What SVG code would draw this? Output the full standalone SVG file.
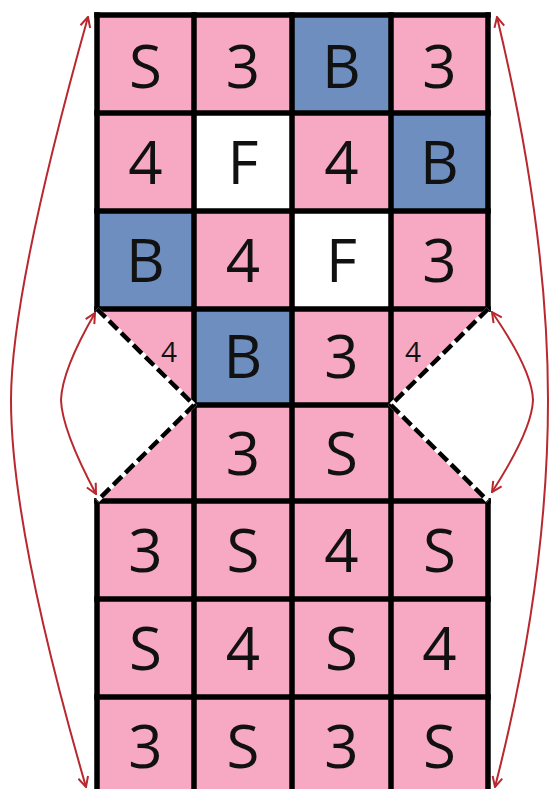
<svg xmlns="http://www.w3.org/2000/svg" width="551" height="789" viewBox="0 0 551 789">
<style>
.p{fill:#F7A8C3}
.b{fill:#6D8EBF}
.w{fill:#FFFFFF}
.t{font-family:"Open Sans","Noto Sans","DejaVu Sans",sans-serif;font-size:60px;fill:#111;text-anchor:middle}
.s{font-family:"Open Sans","Noto Sans","DejaVu Sans",sans-serif;font-size:28px;fill:#111;text-anchor:middle}
.g{stroke:#000;stroke-width:5.5;fill:none;stroke-linecap:square}
.dw{stroke:#fff;stroke-width:4.5;fill:none}
.dk{stroke:#000;stroke-width:4.5;fill:none;stroke-dasharray:12 5}
.a{stroke:#B8282E;stroke-width:2;fill:none}
</style>
<defs>
<marker id="ah" viewBox="0 0 12 12" refX="11" refY="6" markerWidth="12" markerHeight="12" markerUnits="userSpaceOnUse" orient="auto-start-reverse">
<path d="M1,1 L11,6 L1,11" fill="none" stroke="#B8282E" stroke-width="2"/>
</marker>
</defs>
<rect width="551" height="789" fill="#fff"/>

<g id="r1c1"><rect class="p" x="97" y="15" width="97" height="98"/><text class="t" x="145.5" y="88">S</text></g>
<g id="r1c2"><rect class="p" x="194" y="15" width="98" height="98"/><text class="t" x="243" y="88">3</text></g>
<g id="r1c3"><rect class="b" x="292" y="15" width="99" height="98"/><text class="t" x="341.5" y="88">B</text></g>
<g id="r1c4"><rect class="p" x="391" y="15" width="97" height="98"/><text class="t" x="439.5" y="88">3</text></g>

<g id="r2c1"><rect class="p" x="97" y="113" width="97" height="98"/><text class="t" x="145.5" y="184">4</text></g>
<g id="r2c2"><rect class="w" x="194" y="113" width="98" height="98"/><text class="t" x="243" y="184">F</text></g>
<g id="r2c3"><rect class="p" x="292" y="113" width="99" height="98"/><text class="t" x="341.5" y="184">4</text></g>
<g id="r2c4"><rect class="b" x="391" y="113" width="97" height="98"/><text class="t" x="439.5" y="184">B</text></g>

<g id="r3c1"><rect class="b" x="97" y="211" width="97" height="98"/><text class="t" x="145.5" y="282">B</text></g>
<g id="r3c2"><rect class="p" x="194" y="211" width="98" height="98"/><text class="t" x="243" y="282">4</text></g>
<g id="r3c3"><rect class="w" x="292" y="211" width="99" height="98"/><text class="t" x="341.5" y="282">F</text></g>
<g id="r3c4"><rect class="p" x="391" y="211" width="97" height="98"/><text class="t" x="439.5" y="282">3</text></g>

<g id="r4c1"><polygon class="p" points="97,309 194,309 194,405"/><text class="s" x="169" y="362">4</text></g>
<g id="r4c2"><rect class="b" x="194" y="309" width="98" height="96"/><text class="t" x="243" y="378">B</text></g>
<g id="r4c3"><rect class="p" x="292" y="309" width="99" height="96"/><text class="t" x="341.5" y="378">3</text></g>
<g id="r4c4"><polygon class="p" points="391,309 488,309 391,405"/><text class="s" x="413" y="362">4</text></g>

<g id="r5c1"><polygon class="p" points="194,405 194,501 97,501"/></g>
<g id="r5c2"><rect class="p" x="194" y="405" width="98" height="96"/><text class="t" x="243" y="475">3</text></g>
<g id="r5c3"><rect class="p" x="292" y="405" width="99" height="96"/><text class="t" x="341.5" y="475">S</text></g>
<g id="r5c4"><polygon class="p" points="391,405 488,501 391,501"/></g>

<g id="r6c1"><rect class="p" x="97" y="501" width="97" height="98"/><text class="t" x="145.5" y="572">3</text></g>
<g id="r6c2"><rect class="p" x="194" y="501" width="98" height="98"/><text class="t" x="243" y="572">S</text></g>
<g id="r6c3"><rect class="p" x="292" y="501" width="99" height="98"/><text class="t" x="341.5" y="572">4</text></g>
<g id="r6c4"><rect class="p" x="391" y="501" width="97" height="98"/><text class="t" x="439.5" y="572">S</text></g>

<g id="r7c1"><rect class="p" x="97" y="599" width="97" height="98"/><text class="t" x="145.5" y="670">S</text></g>
<g id="r7c2"><rect class="p" x="194" y="599" width="98" height="98"/><text class="t" x="243" y="670">4</text></g>
<g id="r7c3"><rect class="p" x="292" y="599" width="99" height="98"/><text class="t" x="341.5" y="670">S</text></g>
<g id="r7c4"><rect class="p" x="391" y="599" width="97" height="98"/><text class="t" x="439.5" y="670">4</text></g>

<g id="r8c1"><rect class="p" x="97" y="697" width="97" height="98"/><text class="t" x="145.5" y="768">3</text></g>
<g id="r8c2"><rect class="p" x="194" y="697" width="98" height="98"/><text class="t" x="243" y="768">S</text></g>
<g id="r8c3"><rect class="p" x="292" y="697" width="99" height="98"/><text class="t" x="341.5" y="768">3</text></g>
<g id="r8c4"><rect class="p" x="391" y="697" width="97" height="98"/><text class="t" x="439.5" y="768">S</text></g>

<g id="gridlines">
<path class="g" d="M97,15 H488 M97,113 H488 M97,211 H488 M97,309 H488 M194,405 H391 M97,501 H488 M97,599 H488 M97,697 H488"/>
<path class="g" d="M97,15 V309 M97,501 V795 M488,15 V309 M488,501 V795 M194,15 V795 M292,15 V795 M391,15 V795"/>
</g>
<g id="folds">
<path class="dw" d="M97,309 L194,405 L97,501 M488,309 L391,405 L488,501"/>
<path class="dk" d="M97,309 L194,405 L97,501 M488,309 L391,405 L488,501"/>
</g>

<g id="connectors">
<path class="a" d="M88,17 Q11,292 11,400 Q11,528 86,787" marker-start="url(#ah)" marker-end="url(#ah)"/>
<path class="a" d="M497,17 Q548,230 548,400 Q548,580 495,787" marker-start="url(#ah)" marker-end="url(#ah)"/>
<path class="a" d="M95,313 Q62,370 61,400 Q62,430 96,494" marker-start="url(#ah)" marker-end="url(#ah)"/>
<path class="a" d="M492,312 Q532,370 533,400 Q532,430 492,492" marker-start="url(#ah)" marker-end="url(#ah)"/>
</g>
</svg>
